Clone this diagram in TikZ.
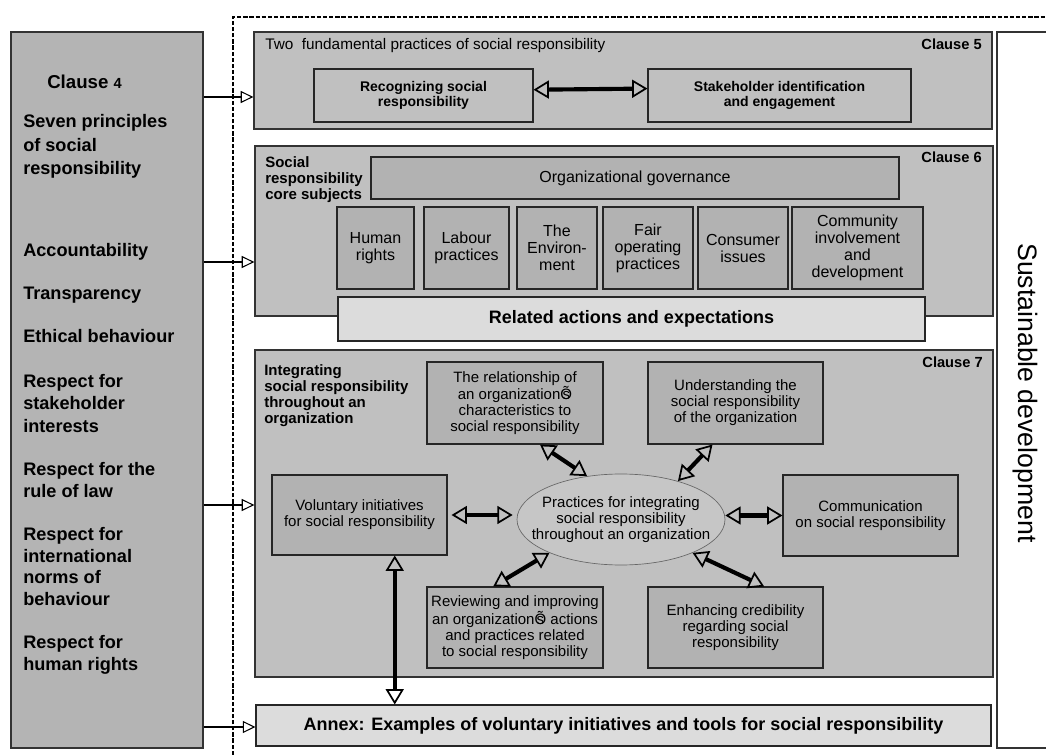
\documentclass[tikz,border=0pt]{standalone}
\usepackage{fontspec}
\setmainfont{Liberation Sans}
\usetikzlibrary{arrows.meta,shapes.geometric}

\newdimen\pxu \pxu=0.75pt
\definecolor{clausegray}{HTML}{C0C0C0}
\definecolor{subjgray}{HTML}{B2B2B2}
\definecolor{leftgray}{HTML}{B4B4B4}
\definecolor{palegray}{HTML}{DCDCDC}
\definecolor{ellgray}{HTML}{C6C6C6}
\newcommand{\orgs}{organization\ooalign{Õ\cr\hidewidth s\hidewidth\cr}}

\tikzset{
  wh/.style 2 args={minimum width=#1\pxu, minimum height=#2\pxu},
  clausebox/.style={draw=black!80, line width=0.9pt, fill=clausegray, inner sep=0pt},
  subjbox/.style={draw=black!85, line width=0.8pt, fill=subjgray, inner sep=0pt, align=center,
    font=\fontsize{12}{12.75}\selectfont},
  smallbox/.style={draw=black!85, line width=0.8pt, fill=subjgray, inner sep=0pt, align=center,
    font=\fontsize{11.25}{12}\selectfont},
  palebox/.style={draw=black!85, line width=0.8pt, fill=palegray, inner sep=0pt,
    font=\fontsize{13.5}{15}\selectfont\bfseries},
  cltag/.style={anchor=base east, inner sep=0pt, font=\fontsize{11}{13}\selectfont\bfseries},
  corelbl/.style={anchor=north west, inner sep=0pt, align=left, font=\fontsize{11.25}{12.2}\selectfont\bfseries},
  princ/.style={anchor=base west, inner sep=0pt, font=\fontsize{13.6}{16.5}\selectfont\bfseries},
  feed/.style={line width=1.2pt, -{Triangle[open,length=9.5pt,width=9pt,line width'=0.8pt]}},
  dbl/.style={line width=3.1pt,
    {Triangle[open,length=11.5pt,width=13.5pt,line width'=1.3pt]}-{Triangle[open,length=11.5pt,width=13.5pt,line width'=1.3pt]}}
}

\begin{document}
\begin{tikzpicture}[x=0.75pt,y=-0.75pt]
  \useasboundingbox (0,0) rectangle (1046,755);

  \node[draw=black!80, line width=0.9pt, fill=leftgray, wh={192}{716}] (principles) at (107,390) {};
  \node[anchor=base west, inner sep=0pt, font=\fontsize{14}{16}\selectfont\bfseries] (cfour) at (47,89)
    {Clause {\fontsize{11}{13}\selectfont 4}};
  \foreach \txt/\yy [count=\i] in {Seven principles/128, of social/152, responsibility/175,
      Accountability/257, Transparency/300, Ethical behaviour/343,
      Respect for/388, stakeholder/410, interests/432, Respect for the/475, rule of law/497,
      Respect for/540, international/562, norms of/583, behaviour/605, Respect for/648, human rights/670}
    \node[princ] (pr\i) at (23,\yy) {\txt};

  \draw[line width=1.6pt, dash pattern=on 3.2pt off 1.4pt] (233,755) -- (233,17) -- (1046,17);

  \draw[draw=black!80, line width=0.9pt] (1046,32) -- (997,32) -- (997,748) -- (1046,748);
  \node[rotate=-90, inner sep=0pt, font=\fontsize{20}{24}\selectfont] (sust) at (1025,393) {Sustainable development};

  % clause 5
  \node[clausebox, wh={738}{97}] (clsv) at (623,80.5) {};
  \node[anchor=base west, inner sep=0pt, font=\fontsize{11.5}{13}\selectfont] (tfive) at (265,50)
    {Two~ fundamental practices of social responsibility};
  \node[cltag] (cfive) at (982,50) {Clause 5};
  \node[subjbox, fill=clausegray, font=\fontsize{10.5}{11.3}\selectfont\bfseries, wh={219}{53}] (rec) at (423.5,95.5)
    {Recognizing social\\ responsibility};
  \node[subjbox, fill=clausegray, font=\fontsize{10.5}{11.3}\selectfont\bfseries, wh={263}{53}] (stk) at (779.5,95.5)
    {Stakeholder identification\\ and engagement};
  \draw[dbl] (rec.3) -- (stk.177);

  % clause 6
  \node[clausebox, wh={738}{170}] (clsvi) at (624,231) {};
  \node[corelbl] (core) at (265,156) {Social\\ responsibility\\ core subjects};
  \node[cltag] (csix) at (982,163) {Clause 6};
  \node[subjbox, wh={528}{42}] (gov) at (635,178) {Organizational governance};
  \node[subjbox, wh={77}{82}] (hr) at (375.5,248) {Human\\ rights};
  \node[subjbox, wh={85}{82}] (lab) at (466.5,248) {Labour\\ practices};
  \node[subjbox, wh={80}{82}] (env) at (557,248) {The\\ Environ-\\ ment};
  \node[subjbox, wh={90}{82}] (fair) at (648,248) {Fair\\ operating\\ practices};
  \node[subjbox, wh={90}{82}] (cons) at (743,248) {Consumer\\ issues};
  \node[subjbox, wh={131}{82}] (comm) at (857.5,248) {Community\\ involvement\\ and\\ development};
  \node[palebox, wh={587}{44}] (relact) at (631.5,319) {Related actions and expectations};

  % clause 7
  \node[clausebox, wh={738}{327}] (clsvii) at (624,513.5) {};
  \node[corelbl] (integ) at (264,364) {Integrating\\ social responsibility\\ throughout an\\ organization};
  \node[cltag] (cseven) at (983,368) {Clause 7};
  \node[smallbox, wh={176}{82}] (relship) at (515,403)
    {The relationship of\\ an \orgs\\ characteristics to\\ social responsibility};
  \node[smallbox, wh={175}{82}] (und) at (735.5,403)
    {Understanding the\\ social responsibility\\ of the organization};
  \node[smallbox, wh={175}{80}] (vol) at (359.5,515) {Voluntary initiatives\\ for social responsibility};
  \node[ellipse, draw=black!60, line width=0.5pt, fill=ellgray, inner sep=0pt, wh={208}{91}] (ell) at (621,519.5) {};
  \node[inner sep=0pt, align=center, font=\fontsize{11.25}{12}\selectfont] (elltxt) at (ell.center)
    {Practices for integrating\\ social responsibility\\ throughout an organization};
  \node[smallbox, wh={175}{81}] (commu) at (870.5,515.5) {Communication\\ on social responsibility};
  \node[smallbox, wh={176}{81}] (rev) at (515,627.5)
    {Reviewing and improving\\ an \orgs{} actions\\ and practices related\\ to social responsibility};
  \node[smallbox, wh={175}{81}] (enh) at (735.5,627.5)
    {Enhancing credibility\\ regarding social\\ responsibility};

  \draw[dbl] (relship.301) -- (ell.128);
  \draw[dbl] (und.241) -- (ell.34);
  \draw[dbl, shorten <=3pt, shorten >=3pt] (vol.east) -- (ell.west |- vol.east);
  \draw[dbl] (ell.east |- commu.west) -- (commu.west);
  \draw[dbl] (rev.118) -- (ell.205);
  \draw[dbl] (ell.335) -- (enh.55);

  % annex
  \node[palebox, wh={735}{41}] (annex) at (623.5,725.5)
    {Annex: Examples of voluntary initiatives and tools for social responsibility};
  \draw[dbl] (vol.311) -- (vol.311 |- annex.north);

  \foreach \tgt/\yy in {clsv/97, clsvi/262, clsvii/505, annex/727}
    \draw[feed] (principles.east |- 0,\yy) -- (\tgt.west |- 0,\yy);
\end{tikzpicture}
\end{document}
